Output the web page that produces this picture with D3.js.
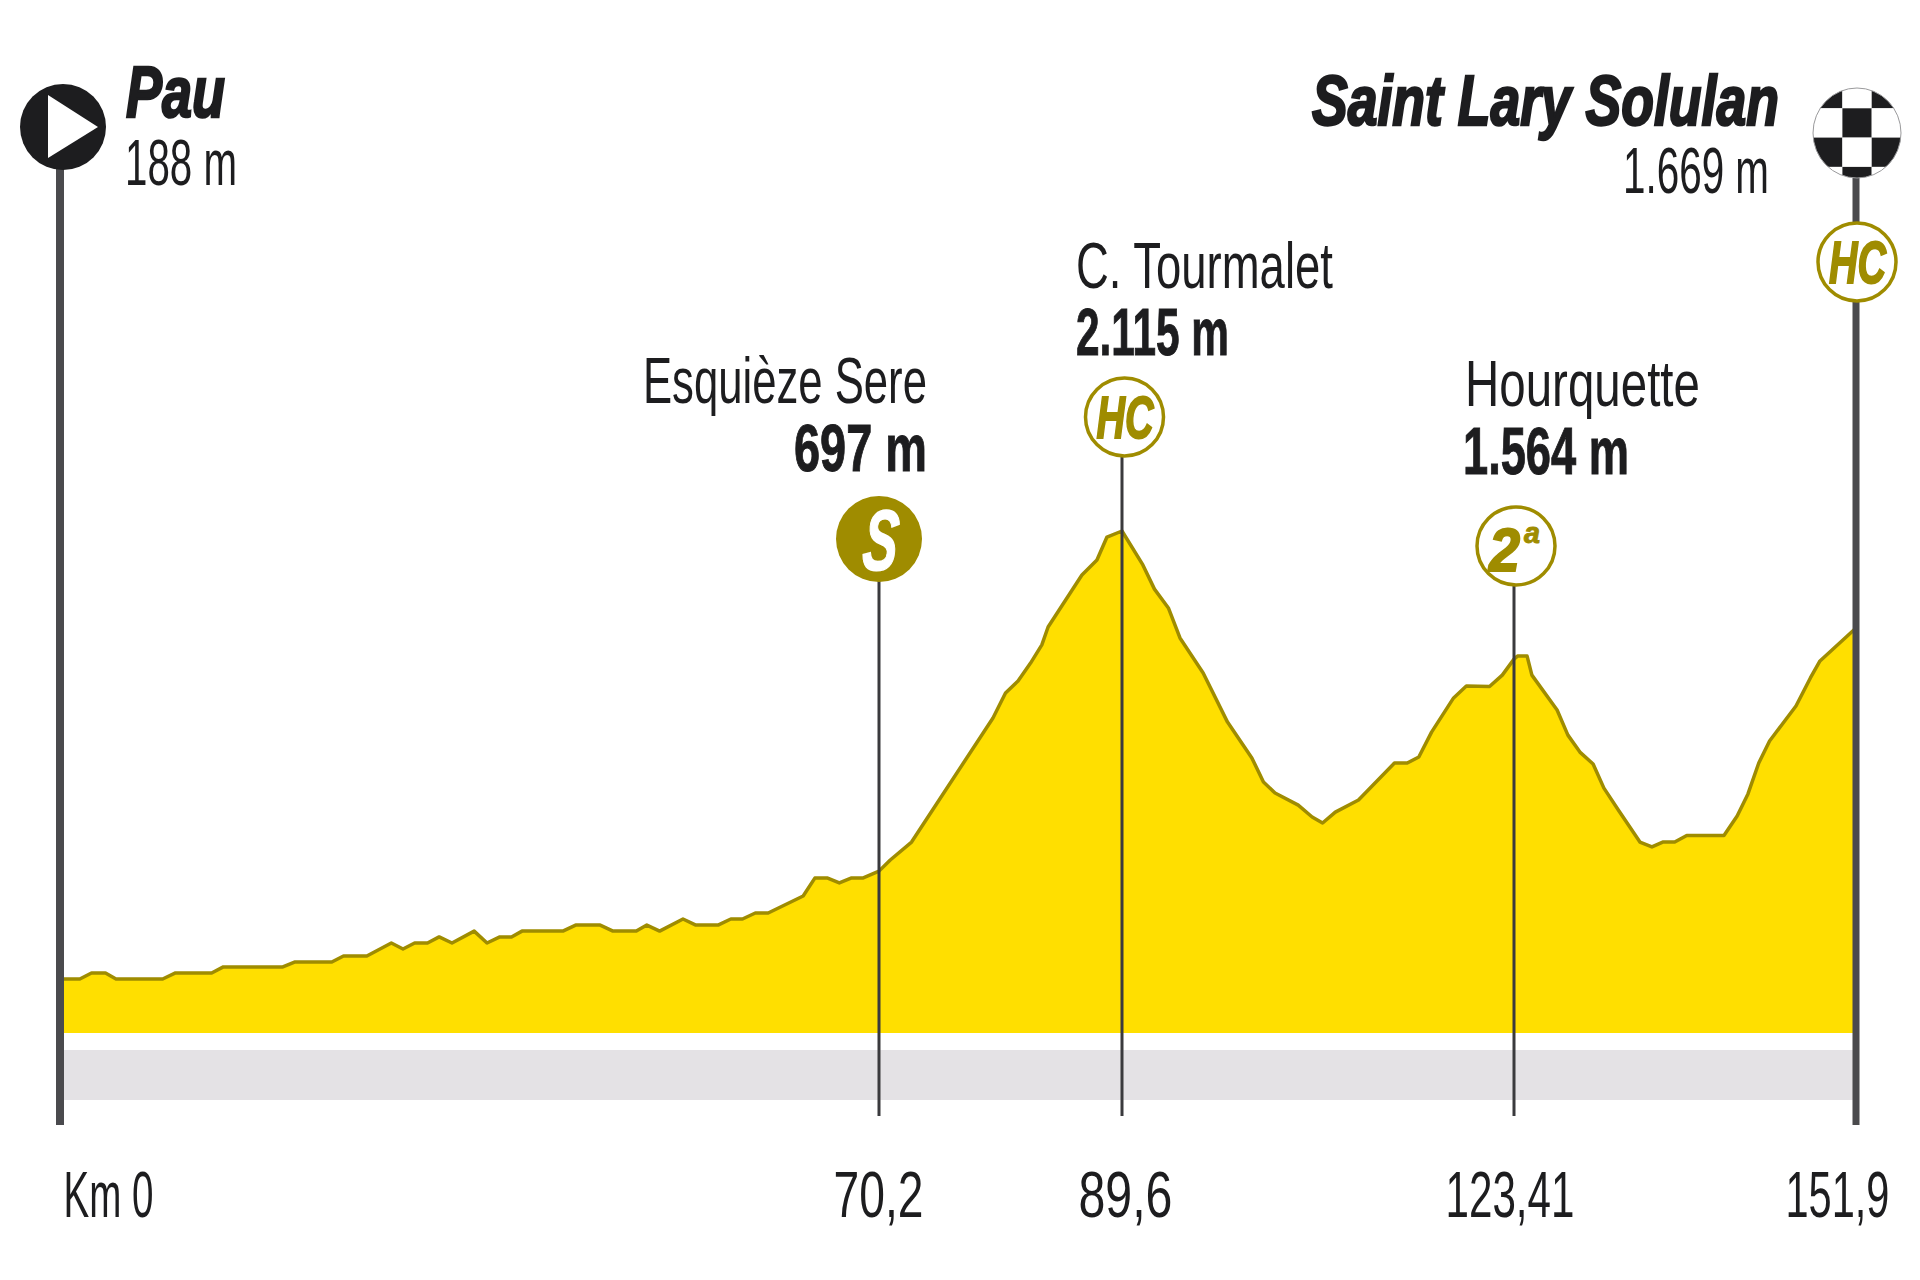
<!DOCTYPE html>
<html>
<head>
    <meta charset="utf-8">
    <title>Pau - Saint Lary Solulan</title>
    <style>
        html, body { margin: 0; background: #fff; }
        svg { display: block; }
        text { font-family: "Liberation Sans Narrow", "Liberation Sans", sans-serif; fill: #1d1d1f; }
    </style>
</head>
<body>
<svg id="chart" width="1920" height="1280"></svg>
<script src="https://d3js.org/d3.v7.min.js"></script>
<script>
    // profile
    const profileKm = [0, 1.7, 2.7, 3.9, 4.8, 8.8, 9.9, 13.0, 14.0, 19.1, 20.1, 23.3, 24.3, 26.3, 28.4, 29.4, 30.4, 31.5, 32.5, 33.6,
        35.5, 36.6, 37.7, 38.7, 39.6, 43.1, 44.2, 46.3, 47.4, 49.4, 50.3, 51.4, 53.4, 54.5, 56.4, 57.5, 58.5, 59.6, 60.7, 63.7,
        64.7, 65.8, 66.8, 67.8, 68.8, 70.2, 71.1, 72.8, 79.3, 80.3, 81.3, 82.3, 83.2, 83.7, 86.4, 87.6, 88.4, 89.6,
        91.4, 92.4, 93.6, 94.6, 96.6, 98.7, 100.8, 101.8, 102.8, 104.8, 106.0, 106.9, 108.0, 110.0, 113.1, 114.2, 115.2, 116.3,
        118.2, 119.3, 121.3, 122.4, 123.41, 123.7, 124.5, 124.9, 127.0, 127.9, 128.9, 130.0, 130.9, 132.1, 133.9, 134.9, 135.8,
        136.8, 137.8, 140.9, 142.0, 142.9, 143.8, 144.7, 146.9, 148.1, 148.9, 151.9];
    const profileElev = [188, 188, 214, 214, 188, 188, 214, 214, 240, 240, 261, 261, 287, 287, 343, 317, 343, 343, 369, 343,
        394, 343, 369, 369, 394, 394, 420, 420, 394, 394, 420, 394, 446, 420, 420, 446, 446, 472, 472, 545,
        622, 622, 601, 622, 622, 652, 700, 777, 1311, 1418, 1470, 1547, 1625, 1702, 1926, 1990, 2089, 2115,
        1969, 1865, 1784, 1655, 1504, 1293, 1139, 1035, 988, 936, 885, 859, 906, 958, 1117, 1117, 1143, 1250,
        1397, 1448, 1446, 1495, 1564, 1577, 1577, 1495, 1345, 1237, 1164, 1113, 1009, 915, 777, 756, 777,
        777, 805, 805, 889, 984, 1117, 1212, 1362, 1483, 1556, 1698];

    const climbNames = ["Esquièze Sere", "C. Tourmalet", "Hourquette"];
    const climbAlts = ["697 m", "2.115 m", "1.564 m"];
    const climbKm = [70.2, 89.6, 123.41];
    const climbCats = ["S", "HC", "2a"];

    const startName = "Pau";
    const startAlt = "188 m";
    const finishName = "Saint Lary Solulan";
    const finishAlt = "1.669 m";
    const finishCat = "HC";
    const finishKm = 151.9;

    const kmTicks = [0, 70.2, 89.6, 123.41, 151.9];
    const kmTickLabels = ["Km 0", "70,2", "89,6", "123,41", "151,9"];

    // the km marks are not quite evenly spaced in the drawing
    const x = d3.scaleLinear().domain(kmTicks).range([60, 879, 1122, 1514, 1856]);
    const y = d3.scaleLinear().domain([188, 2115]).range([979, 531]);

    const baseY = 1033;
    const gold = "#9f8c00";
    const pole = "#4a4a4d";
    const ink = "#1d1d1f";

    const svg = d3.select("#chart");
    const defs = svg.append("defs");

    // squeeze every label to its measured box, nothing condensed enough is installed
    function label(txt, left, right, baseline, size, heavy, italic, colour, skew) {
        const t = svg.append("text")
            .attr("font-size", size)
            .attr("font-weight", heavy ? 700 : 400)
            .attr("font-style", italic ? "italic" : "normal")
            .style("fill", colour || ink)
            .text(txt);
        if (heavy) t.style("stroke", colour || ink).style("stroke-width", heavy);
        const sx = (right - left) / t.node().getComputedTextLength();
        t.attr("transform", `translate(${left},${baseline}) scale(${sx},1)` + (skew ? ` skewX(${skew})` : ""));
        return t;
    }

    // grey band under the profile
    svg.append("rect")
        .attr("x", x(0)).attr("y", 1050)
        .attr("width", x(finishKm) - x(0)).attr("height", 50)
        .attr("fill", "#e4e2e5");

    const profile = profileKm.map((km, i) => [km, profileElev[i]]);

    svg.append("path")
        .datum(profile)
        .attr("fill", "#ffdf00")
        .attr("d", d3.area().x(d => x(d[0])).y0(baseY).y1(d => y(d[1])));

    svg.append("path")
        .datum(profile)
        .attr("fill", "none")
        .attr("stroke", gold)
        .attr("stroke-width", 3.5)
        .attr("stroke-linejoin", "round")
        .attr("d", d3.line().x(d => x(d[0])).y(d => y(d[1])));

    // climb lines
    const badgeY = [539, 417, 546];
    const badgeDx = [0, 2.5, 2];
    svg.selectAll("line.climb")
        .data(climbKm)
        .join("line")
        .attr("class", "climb")
        .attr("x1", d => x(d)).attr("x2", d => x(d))
        .attr("y1", (d, i) => badgeY[i] + 40)
        .attr("y2", 1116)
        .attr("stroke", "#3a3a3d")
        .attr("stroke-width", 3);

    // start and finish poles
    svg.append("line")
        .attr("x1", x(0)).attr("x2", x(0)).attr("y1", 160).attr("y2", 1125)
        .attr("stroke", pole).attr("stroke-width", 8);
    svg.append("line")
        .attr("x1", x(finishKm)).attr("x2", x(finishKm)).attr("y1", 170).attr("y2", 1125)
        .attr("stroke", pole).attr("stroke-width", 7);

    // start badge
    svg.append("circle").attr("cx", 63).attr("cy", 127).attr("r", 43).attr("fill", ink);
    svg.append("path").attr("d", "M48,95L98,127L48,158Z").attr("fill", "#fff");

    // finish badge, checkered
    const finishCx = 1857, finishCy = 133, sq = 29.3;
    defs.append("clipPath").attr("id", "finishClip")
        .append("ellipse").attr("cx", finishCx).attr("cy", finishCy).attr("rx", 44).attr("ry", 45);
    const checks = d3.cross(d3.range(-2, 3), d3.range(-1, 3));
    svg.append("g").attr("clip-path", "url(#finishClip)")
        .selectAll("rect")
        .data(checks)
        .join("rect")
        .attr("x", d => finishCx - 14.6 + d[0] * sq)
        .attr("y", d => 108.3 + d[1] * sq)
        .attr("width", sq).attr("height", sq)
        .attr("fill", d => (d[0] + d[1]) % 2 === 0 ? ink : "#fff");
    svg.append("ellipse")
        .attr("cx", finishCx).attr("cy", finishCy).attr("rx", 44).attr("ry", 45)
        .attr("fill", "none").attr("stroke", "#9a9a9c").attr("stroke-width", 1);

    function badge(cx, cy, cat, solid) {
        svg.append("circle")
            .attr("cx", cx).attr("cy", cy)
            .attr("r", solid ? 43 : 39)
            .attr("fill", solid ? gold : "#fff")
            .attr("stroke", solid ? "none" : gold)
            .attr("stroke-width", 3.5);
        if (cat === "S") {
            label(cat, cx - 18, cx + 17, cy + 31, 86, 1.5, true, "#fff", -8);
        } else if (cat === "HC") {
            label(cat, cx - 28, cx + 29, cy + 21, 60, 2, true, gold);
        } else {
            label(cat[0], cx - 27, cx + 4, cy + 25, 62, 2, true, gold);
            label(cat[1], cx + 8, cx + 24, cy - 3, 30, 1, true, gold);
        }
    }
    climbCats.forEach((c, i) => badge(x(climbKm[i]) + badgeDx[i], badgeY[i], c, c === "S"));
    badge(finishCx, 262, finishCat, false);

    // names
    label(startName, 126, 225, 117, 72, 2.5, true);
    label(startAlt, 125, 237, 185, 65, 0, false);
    label(finishName, 1312, 1779, 125, 70, 2.5, true);
    label(finishAlt, 1623, 1769, 193, 65, 0, false);

    const nameBoxes = [[643, 927, 403], [1076, 1333, 288], [1465, 1700, 406]];
    const altBoxes = [[794, 927, 471], [1076, 1229, 355], [1463, 1629, 474]];
    climbNames.forEach((n, i) => label(n, nameBoxes[i][0], nameBoxes[i][1], nameBoxes[i][2], 65, 0, false));
    climbAlts.forEach((a, i) => label(a, altBoxes[i][0], altBoxes[i][1], altBoxes[i][2], 66, 1, false));

    // km axis, labels pulled to their boxes
    const tickBoxes = [[63, 153], [833, 923], [1078, 1172], [1445, 1574], [1785, 1889]];
    const axis = d3.axisBottom(x)
        .tickValues(kmTicks)
        .tickFormat((d, i) => kmTickLabels[i])
        .tickSize(0);
    const axisG = svg.append("g").attr("transform", "translate(0,1217)").call(axis);
    axisG.select(".domain").remove();
    axisG.selectAll(".tick text")
        .attr("font-family", null)
        .attr("font-size", 65)
        .attr("text-anchor", "start")
        .attr("dy", 0)
        .attr("y", 0)
        .attr("transform", function (d, i) {
            const sx = (tickBoxes[i][1] - tickBoxes[i][0]) / this.getComputedTextLength();
            return `translate(${tickBoxes[i][0] - x(d)},0) scale(${sx},1)`;
        });
</script>
</body>
</html>
